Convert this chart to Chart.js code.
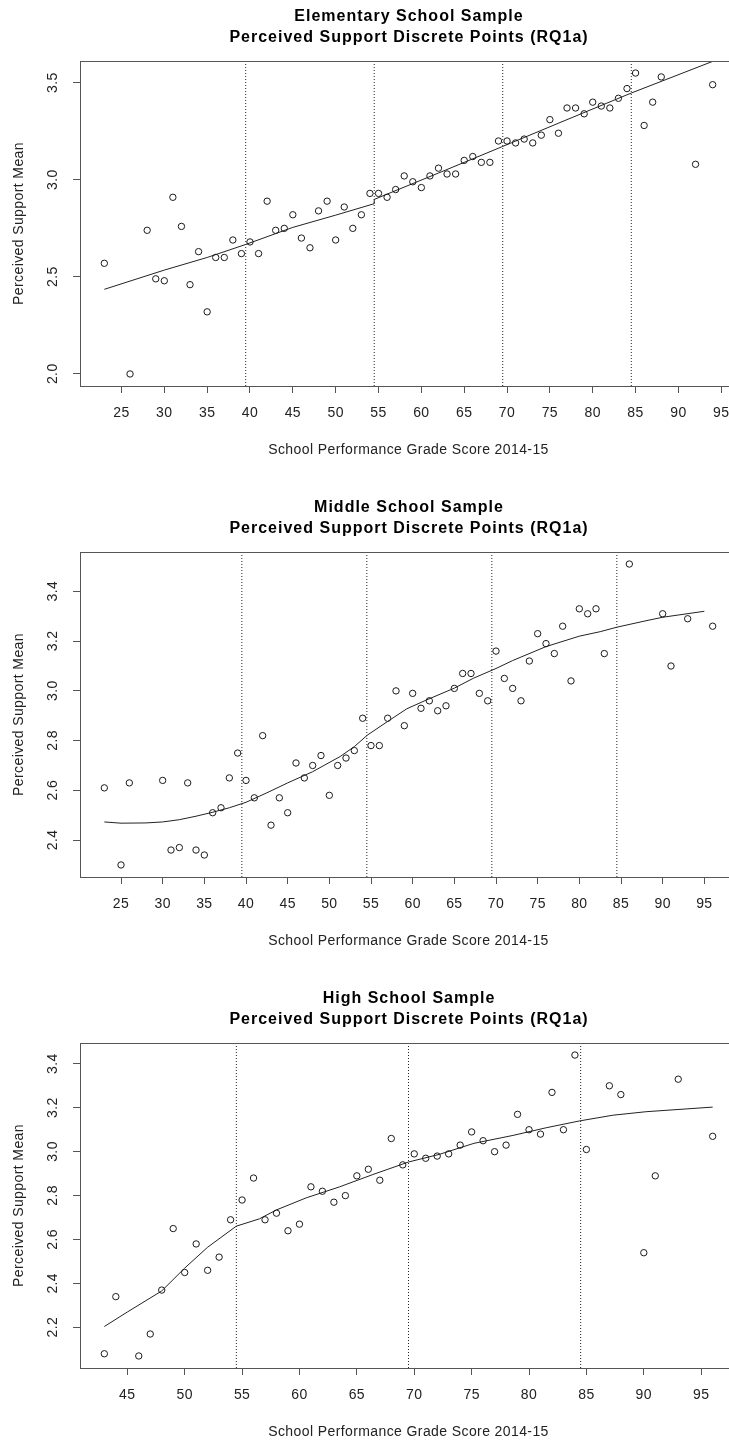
<!DOCTYPE html>
<html>
<head>
<meta charset="utf-8">
<script src="https://cdn.jsdelivr.net/npm/chart.js@4.4.1/dist/chart.umd.min.js"></script>
<style>
html,body{margin:0;padding:0;background:#fff;overflow:hidden;width:729px;height:1441px;position:relative;}
canvas{position:absolute;left:0;}
</style>
</head>
<body>
<canvas id="c1" width="745" height="490" style="top:0px"></canvas>
<canvas id="c2" width="745" height="490" style="top:491px"></canvas>
<canvas id="c3" width="745" height="490" style="top:982px"></canvas>
<script>
// ---------- text ----------
const subtitle = 'Perceived Support Discrete Points (RQ1a)';
const xLabel = 'School Performance Grade Score 2014-15';
const yLabel = 'Perceived Support Mean';

// ---------- Elementary ----------
const elemTitle = 'Elementary School Sample';
const elemX = [23,26,28,29,30,31,32,33,34,35,36,37,38,39,40,41,42,43,44,45,46,47,48,49,50,51,52,53,54,55,56,57,58,59,60,61,62,63,64,65,66,67,68,69,70,71,72,73,74,75,76,77,78,79,80,81,82,83,84,85,86,87,88,92,94];
const elemY = [2.57,2.00,2.74,2.49,2.48,2.91,2.76,2.46,2.63,2.32,2.60,2.60,2.69,2.62,2.68,2.62,2.89,2.74,2.75,2.82,2.70,2.65,2.84,2.89,2.69,2.86,2.75,2.82,2.93,2.93,2.91,2.95,3.02,2.99,2.96,3.02,3.06,3.03,3.03,3.10,3.12,3.09,3.09,3.20,3.20,3.19,3.21,3.19,3.23,3.31,3.24,3.37,3.37,3.34,3.40,3.38,3.37,3.42,3.47,3.55,3.28,3.40,3.53,3.08,3.49];
const elemFitX = [23,30,35,39.5,45,50,54.5,54.5,62,69.5,77,84.5,94];
const elemFitY = [2.436,2.535,2.60,2.667,2.755,2.818,2.877,2.899,3.035,3.172,3.31,3.447,3.61];
const elemCuts = [39.5,54.5,69.5,84.5];
const elemXTicks = [25,30,35,40,45,50,55,60,65,70,75,80,85,90,95];
const elemYTicks = [2.0,2.5,3.0,3.5];

// ---------- Middle ----------
const midTitle = 'Middle School Sample';
const midX = [23,25,26,30,31,32,33,34,35,36,37,38,39,40,41,42,43,44,45,46,47,48,49,50,51,52,53,54,55,56,57,58,59,60,61,62,63,64,65,66,67,68,69,70,71,72,73,74,75,76,77,78,79,80,81,82,83,86,90,91,93,96];
const midY = [2.61,2.30,2.63,2.64,2.36,2.37,2.63,2.36,2.34,2.51,2.53,2.65,2.75,2.64,2.57,2.82,2.46,2.57,2.51,2.71,2.65,2.70,2.74,2.58,2.70,2.73,2.76,2.89,2.78,2.78,2.89,3.00,2.86,2.99,2.93,2.96,2.92,2.94,3.01,3.07,3.07,2.99,2.96,3.16,3.05,3.01,2.96,3.12,3.23,3.19,3.15,3.26,3.04,3.33,3.31,3.33,3.15,3.51,3.31,3.10,3.29,3.26];
const midFitX = [23,25,28,30,32,34,36,38,40,42.5,45,48,51.3,53,54.6,57,59.3,61.7,65,67.3,70,72,76,80,82.5,84.5,88,90,95];
const midFitY = [2.473,2.468,2.469,2.473,2.482,2.496,2.512,2.530,2.552,2.590,2.630,2.675,2.736,2.776,2.823,2.877,2.928,2.964,3.011,3.051,3.090,3.122,3.178,3.220,3.238,3.256,3.282,3.296,3.320];
const midCuts = [39.5,54.5,69.5,84.5];
const midXTicks = [25,30,35,40,45,50,55,60,65,70,75,80,85,90,95];
const midYTicks = [2.4,2.6,2.8,3.0,3.2,3.4];

// ---------- High ----------
const highTitle = 'High School Sample';
const highX = [43,44,46,47,48,49,50,51,52,53,54,55,56,57,58,59,60,61,62,63,64,65,66,67,68,69,70,71,72,73,74,75,76,77,78,79,80,81,82,83,84,85,87,88,90,91,93,96];
const highY = [2.08,2.34,2.07,2.17,2.37,2.65,2.45,2.58,2.46,2.52,2.69,2.78,2.88,2.69,2.72,2.64,2.67,2.84,2.82,2.77,2.80,2.89,2.92,2.87,3.06,2.94,2.99,2.97,2.98,2.99,3.03,3.09,3.05,3.00,3.03,3.17,3.10,3.08,3.27,3.10,3.44,3.01,3.30,3.26,2.54,2.89,3.33,3.07];
const highFitX = [43,45,48,50,52,54.5,56.5,58,60.6,63.5,66.4,69.5,72.2,75.2,78.6,81.5,84.4,87.3,90.2,96];
const highFitY = [2.204,2.27,2.366,2.47,2.565,2.661,2.694,2.735,2.790,2.840,2.896,2.953,2.988,3.038,3.074,3.109,3.140,3.166,3.182,3.203];
const highCuts = [54.5,69.5,84.5];
const highXTicks = [45,50,55,60,65,70,75,80,85,90,95];
const highYTicks = [2.2,2.4,2.6,2.8,3.0,3.2,3.4];

// ---------- drawing ----------
const FONT = '"Liberation Sans", Arial, Helvetica, sans-serif';
const LINE = '#222';
const AXIS = '#555';

function extRange(arr){
  const mn = Math.min(...arr), mx = Math.max(...arr), d = (mx - mn) * 0.04;
  return [mn - d, mx + d];
}

const deco = {
  id: 'deco',
  beforeDraw(chart){
    try { chart.ctx.letterSpacing = '0.4px'; } catch (e) {}
  },
  afterDraw(chart, args, opts){
    const ctx = chart.ctx, a = chart.chartArea;
    ctx.save();
    ctx.strokeStyle = AXIS; ctx.lineWidth = 1;
    ctx.strokeRect(Math.round(a.left) + 0.5, Math.round(a.top) + 0.5,
                   Math.round(a.right - a.left), Math.round(a.bottom - a.top));
    const cx = (a.left + a.right) / 2;
    ctx.fillStyle = '#000';
    ctx.font = 'bold 16px ' + FONT;
    try { ctx.letterSpacing = '1px'; } catch (e) {}
    ctx.textAlign = 'center';
    ctx.textBaseline = 'alphabetic';
    ctx.fillText(opts.title, cx + 0.5, 21);
    ctx.fillText(subtitle, cx + 0.5, 41.5);
    const ys = chart.scales.y;
    ctx.font = '14px ' + FONT;
    try { ctx.letterSpacing = '0.4px'; } catch (e) {}
    ctx.fillStyle = '#222';
    ctx.textBaseline = 'middle';
    ys.ticks.forEach(t => {
      const py = ys.getPixelForValue(t.value);
      ctx.save();
      ctx.translate(53.5, py);
      ctx.rotate(-Math.PI / 2);
      ctx.fillText(t.value.toFixed(1), 0.2, 0);
      ctx.restore();
    });
    ctx.restore();
  }
};

function makeChart(id, title, xs, ys, fx, fy, cuts, xt, yt){
  const [xmin, xmax] = extRange(xs);
  const [ymin, ymax] = extRange(ys);
  const datasets = [];
  datasets.push({
    data: xs.map((x, i) => ({x: x, y: ys[i]})),
    showLine: false,
    pointRadius: 3.2,
    pointStyle: 'circle',
    pointBorderWidth: 1,
    pointBorderColor: '#1a1a1a',
    pointBackgroundColor: 'rgba(0,0,0,0)'
  });
  datasets.push({
    data: fx.map((x, i) => ({x: x, y: fy[i]})),
    showLine: true, borderColor: LINE, borderWidth: 1, pointRadius: 0, tension: 0, fill: false
  });
  cuts.forEach(c => datasets.push({
    data: [{x: c, y: ymin}, {x: c, y: ymax}],
    showLine: true, borderColor: '#222', borderWidth: 1, borderDash: [1, 2], pointRadius: 0, fill: false
  }));
  return new Chart(document.getElementById(id), {
    type: 'scatter',
    data: {datasets: datasets},
    options: {
      responsive: false,
      animation: false,
      events: [],
      layout: {padding: {left: 0, top: 61, right: 8, bottom: 0}},
      plugins: {legend: {display: false}, tooltip: {enabled: false}, title: {display: false}, deco: {title: title}},
      scales: {
        x: {
          type: 'linear', position: 'bottom', min: xmin, max: xmax,
          afterBuildTicks: s => { s.ticks = xt.map(v => ({value: v})); },
          afterFit: s => { s.height = 104; },
          grid: {display: true, drawOnChartArea: false, drawTicks: true, tickLength: 7, color: AXIS, lineWidth: 1},
          border: {display: false},
          ticks: {display: true, autoSkip: false, maxRotation: 0, minRotation: 0, padding: 12,
                  color: '#222', font: {family: FONT, size: 14}, callback: v => String(v)},
          title: {display: true, text: xLabel, color: '#222', font: {family: FONT, size: 14},
                  padding: {top: 0, bottom: 31}}
        },
        y: {
          type: 'linear', position: 'left', min: ymin, max: ymax,
          afterBuildTicks: s => { s.ticks = yt.map(v => ({value: v})); },
          afterFit: s => { s.width = 80; },
          grid: {display: true, drawOnChartArea: false, drawTicks: true, tickLength: 7, color: AXIS, lineWidth: 1},
          border: {display: false},
          ticks: {display: false},
          title: {display: true, text: yLabel, color: '#222', font: {family: FONT, size: 14},
                  padding: {top: 11, bottom: 0}}
        }
      }
    },
    plugins: [deco]
  });
}

makeChart('c1', elemTitle, elemX, elemY, elemFitX, elemFitY, elemCuts, elemXTicks, elemYTicks);
makeChart('c2', midTitle, midX, midY, midFitX, midFitY, midCuts, midXTicks, midYTicks);
makeChart('c3', highTitle, highX, highY, highFitX, highFitY, highCuts, highXTicks, highYTicks);
</script>
</body>
</html>
